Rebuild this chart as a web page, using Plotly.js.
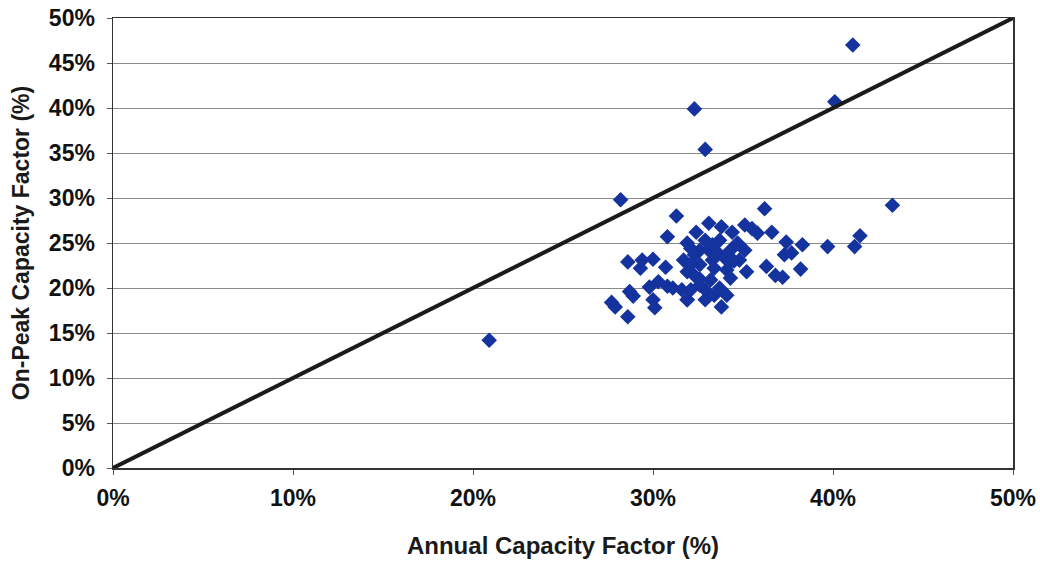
<!DOCTYPE html>
<html>
<head>
<meta charset="utf-8">
<script src="https://cdn.plot.ly/plotly-3.0.1.min.js"></script>
<style>
  html, body { margin: 0; padding: 0; background: #ffffff; }
  #chart { width: 1040px; height: 565px; }
</style>
</head>
<body>
<div id="chart"></div>
<script>
// Annual vs. on-peak capacity factor per project (percent)
const annualCF = [
  41.1, 40.1, 32.3, 32.9, 28.2, 43.3, 20.9, 41.5, 41.2, 39.7,
  36.2, 36.6, 38.3, 38.2, 37.4, 37.3, 37.7, 36.3, 36.8, 37.2,
  31.3, 30.8, 28.6, 29.4, 30.0, 29.3, 30.7, 28.7, 28.9, 29.8,
  30.3, 30.8, 31.1, 31.6, 27.7, 27.9, 30.0, 30.1, 28.6, 31.9,
  33.1, 33.8, 32.4, 34.4, 35.1, 35.5, 35.8, 31.9, 32.6, 33.1,
  33.6, 34.3, 34.7, 34.8, 35.2, 31.7, 31.9, 32.3, 34.1, 34.3,
  33.2, 32.1, 32.9, 33.7, 34.1, 31.9, 33.8, 32.6, 33.3, 32.1,
  32.3, 32.9, 33.3, 33.7, 32.1, 32.6, 33.4, 34.5, 34.0, 32.9,
  33.4, 35.1, 32.6, 34.3
];
const onPeakCF = [
  47.0, 40.7, 39.9, 35.4, 29.8, 29.2, 14.2, 25.8, 24.6, 24.6,
  28.8, 26.2, 24.8, 22.1, 25.1, 23.7, 23.9, 22.4, 21.4, 21.2,
  28.0, 25.7, 22.9, 23.1, 23.2, 22.2, 22.3, 19.6, 19.1, 20.1,
  20.7, 20.2, 20.0, 19.8, 18.4, 17.9, 18.7, 17.8, 16.8, 18.7,
  27.2, 26.8, 26.2, 26.2, 27.0, 26.6, 26.1, 25.0, 24.2, 24.2,
  23.9, 24.2, 25.0, 23.1, 21.8, 23.1, 21.8, 21.4, 22.0, 21.1,
  20.9, 19.8, 19.8, 20.0, 19.2, 18.7, 17.9, 20.3, 23.1, 24.4,
  23.7, 25.3, 24.8, 25.3, 22.6, 22.6, 22.2, 23.0, 23.3, 18.7,
  19.2, 24.2, 21.0, 22.9
];

// Equal-capacity-factor reference line (y = x)
const refLine = [0, 50];

const xTicks = [0, 10, 20, 30, 40, 50];
const yTicks = [0, 5, 10, 15, 20, 25, 30, 35, 40, 45, 50];
const pctLabel = v => '<b>' + v + '%</b>';

const FONT = 'Liberation Sans, Arial, sans-serif';
const tickFont = { family: FONT, size: 23, color: '#111111' };

const traces = [
  {
    type: 'scatter',
    mode: 'markers',
    x: annualCF,
    y: onPeakCF,
    marker: { symbol: 'diamond', size: 12, color: '#14339e', line: { width: 0 } },
    hoverinfo: 'x+y',
    showlegend: false
  },
  {
    type: 'scatter',
    mode: 'lines',
    x: refLine,
    y: refLine,
    line: { color: '#1a1a1a', width: 4 },
    hoverinfo: 'skip',
    showlegend: false
  }
];

const layout = {
  width: 1040,
  height: 565,
  margin: { l: 113, r: 27, t: 18, b: 97 },
  paper_bgcolor: '#ffffff',
  plot_bgcolor: '#ffffff',
  font: { family: FONT, color: '#000000' },
  xaxis: {
    range: [0, 50],
    tickvals: xTicks,
    ticktext: xTicks.map(pctLabel),
    tickfont: tickFont,
    ticks: 'outside',
    ticklen: 5,
    tickcolor: '#555555',
    ticklabelstandoff: 4,
    showgrid: false,
    zeroline: false,
    showline: true,
    linecolor: '#333333',
    linewidth: 1.5,
    mirror: true,
    title: {
      text: '<b>Annual Capacity Factor (%)</b>',
      font: { family: FONT, size: 24, color: '#1a1a1a' },
      standoff: 27
    },
    fixedrange: true
  },
  yaxis: {
    range: [0, 50],
    tickvals: yTicks,
    ticktext: yTicks.map(pctLabel),
    tickfont: tickFont,
    ticks: 'outside',
    ticklen: 5,
    tickcolor: '#555555',
    ticklabelstandoff: 7,
    showgrid: true,
    gridcolor: '#8a8a8a',
    gridwidth: 1,
    zeroline: false,
    showline: true,
    linecolor: '#333333',
    linewidth: 1.5,
    mirror: true,
    title: {
      text: '<b>On-Peak Capacity Factor (%)</b>',
      font: { family: FONT, size: 23, color: '#1a1a1a' },
      standoff: 13
    },
    fixedrange: true
  }
};

Plotly.newPlot('chart', traces, layout, { staticPlot: true, displayModeBar: false });
</script>
</body>
</html>
